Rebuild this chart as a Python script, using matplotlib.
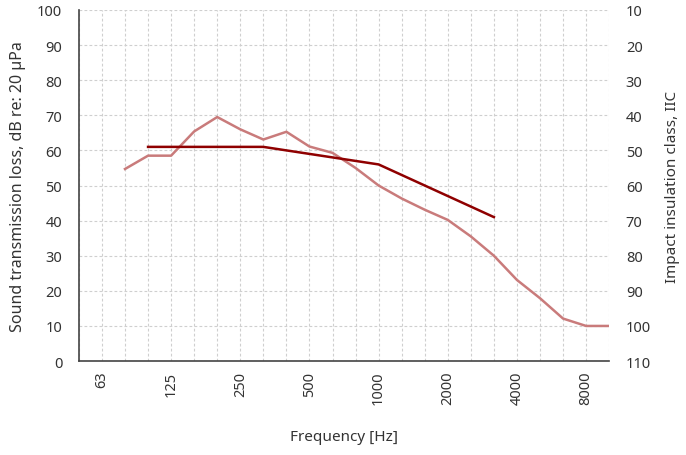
import numpy as np
import matplotlib.pyplot as plt

plt.rcParams['font.family'] = ['Noto Sans', 'DejaVu Sans']

# Bandas de tercio de octava
bandas = ['63', '80', '100', '125', '160', '200', '250', '315', '400', '500', '630',
          '800', '1000', '1250', '1600', '2000', '2500', '3150', '4000', '5000',
          '6300', '8000', '10000']
etiquetas = ['63', '125', '250', '500', '1000', '2000', '4000', '8000']

# Curva medida (banda 80 Hz hasta 10000 Hz)
medida_bandas = bandas[1:]
medida = [54.7, 58.5, 58.5, 65.4, 69.5, 66.0, 63.1, 65.3, 61.1, 59.3, 55.0,
          50.0, 46.3, 43.1, 40.2, 35.5, 30.0, 23.1, 17.9, 12.1, 10.0, 10.0]

# Curva de referencia (100 Hz hasta 3150 Hz)
ref_bandas = bandas[2:18]
referencia = [61, 61, 61, 61, 61, 61, 60, 59, 58, 57, 56, 53, 50, 47, 44, 41]

x_pos = {b: i for i, b in enumerate(bandas)}
x_med = [x_pos[b] for b in medida_bandas]
x_ref = [x_pos[b] for b in ref_bandas]

txt = '#333333'
fs = 10.5
fig = plt.figure(figsize=(6.86, 4.56), dpi=100)
ax = fig.add_axes([0.115, 0.206, 0.773, 0.77])

ax.plot(x_med, medida, color='#c97b7b', linewidth=1.8, zorder=3)
ax.plot(x_ref, referencia, color='#8f0000', linewidth=1.8, zorder=4)

ax.set_xlim(-1, 22)
ax.set_ylim(0, 100)
ax.xaxis.remove_overlapping_locs = False
ax.set_xticks(range(-1, 23))
ax.set_xticklabels([''] * 24)
ax.set_xticks([x_pos[e] for e in etiquetas], minor=True)
ax.set_xticklabels(etiquetas, minor=True, rotation=90)
ax.set_yticks(np.arange(0, 101, 10))

ax.grid(True, which='major', color='#cfcfcf', linestyle=(0, (2.5, 2)), linewidth=0.8)
ax.tick_params(axis='both', which='both', length=0, colors=txt, labelsize=fs)
ax.tick_params(axis='y', pad=12)
ax.tick_params(axis='x', which='minor', pad=7)

for s in ['top', 'right']:
    ax.spines[s].set_visible(False)
for s in ['left', 'bottom']:
    ax.spines[s].set_color('#444444')
    ax.spines[s].set_linewidth(1.2)

ax.set_xlabel('Frequency [Hz]', color=txt, fontsize=11, labelpad=18)
ax.set_ylabel('Sound transmission loss, dB re: 20 µPa', color=txt, fontsize=11.5, labelpad=8)

ax2 = ax.twinx()
ax2.set_ylim(110, 10)
ax2.set_yticks(np.arange(10, 111, 10))
ax2.tick_params(axis='y', length=0, colors=txt, labelsize=fs, pad=12)
for s in ax2.spines.values():
    s.set_visible(False)
ax2.set_ylabel('Impact insulation class, IIC', color=txt, fontsize=11, labelpad=10)

fig.savefig('out.png', dpi=100)
